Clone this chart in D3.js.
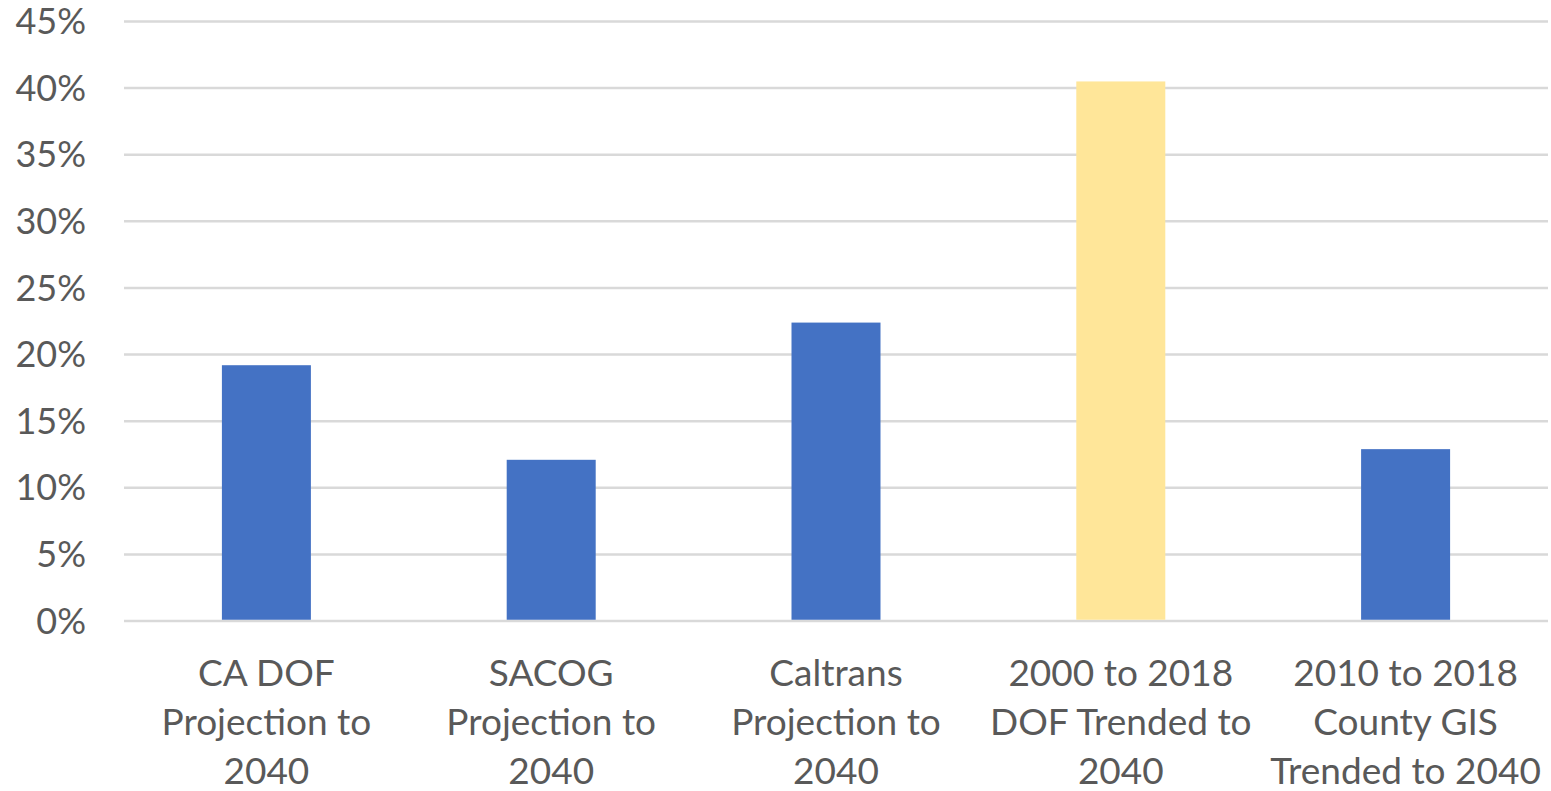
<html>
<head>
<script src="https://cdnjs.cloudflare.com/ajax/libs/d3/7.8.5/d3.min.js"></script>
<style>
  body { margin: 0; background: #fff; }
  text { font-family: Lato, "Open Sans", sans-serif; fill: #595959; }
</style>
</head>
<body>
<svg id="chart" width="1551" height="791"></svg>
<script>
  // data
  var categories = [
    ["CA DOF", "Projection to", "2040"],
    ["SACOG", "Projection to", "2040"],
    ["Caltrans", "Projection to", "2040"],
    ["2000 to 2018", "DOF Trended to", "2040"],
    ["2010 to 2018", "County GIS", "Trended to 2040"]
  ]
  var values = [0.192, 0.121, 0.224, 0.405, 0.129]
  var barColors = ["#4472C4", "#4472C4", "#4472C4", "#FFE699", "#4472C4"]
  var yTicks = [0, 0.05, 0.10, 0.15, 0.20, 0.25, 0.30, 0.35, 0.40, 0.45]

  var plotLeft = 124, plotRight = 1548, plotTop = 21.5, plotBottom = 621
  var svg = d3.select("#chart")

  var x = d3.scaleBand()
    .domain(d3.range(categories.length))
    .range([plotLeft, plotRight])
    .paddingInner(0.6875)
    .paddingOuter(0.34375)
  var y = d3.scaleLinear().domain([0, 0.45]).range([plotBottom, plotTop])

  // gridlines
  svg.append("g").selectAll("line")
    .data(yTicks)
    .enter().append("line")
    .attr("x1", plotLeft).attr("x2", plotRight)
    .attr("y1", d => y(d)).attr("y2", d => y(d))
    .attr("stroke", "#d9d9d9")
    .attr("stroke-width", 2.5)

  // y labels
  svg.append("g").selectAll("text")
    .data(yTicks)
    .enter().append("text")
    .attr("x", 86)
    .attr("y", d => y(d))
    .attr("dy", "0.35em")
    .attr("text-anchor", "end")
    .style("font-size", "36px")
    .text(d => d3.format(".0%")(d))

  // bars
  svg.append("g").selectAll("rect")
    .data(values)
    .enter().append("rect")
    .attr("x", (d, i) => x(i))
    .attr("width", x.bandwidth())
    .attr("y", d => y(d))
    .attr("height", d => y(0) - y(d) - 1.25)
    .attr("fill", (d, i) => barColors[i])

  // category labels
  var labels = svg.append("g").selectAll("text")
    .data(categories)
    .enter().append("text")
    .attr("text-anchor", "middle")
    .style("font-size", "37px")
    .attr("transform", (d, i) => "translate(" + (x(i) + x.bandwidth() / 2) + ",0)")
  labels.selectAll("tspan")
    .data(d => d)
    .enter().append("tspan")
    .attr("x", 0)
    .attr("y", (d, j) => 686 + j * 49)
    .text(d => d)
</script>
</body>
</html>
